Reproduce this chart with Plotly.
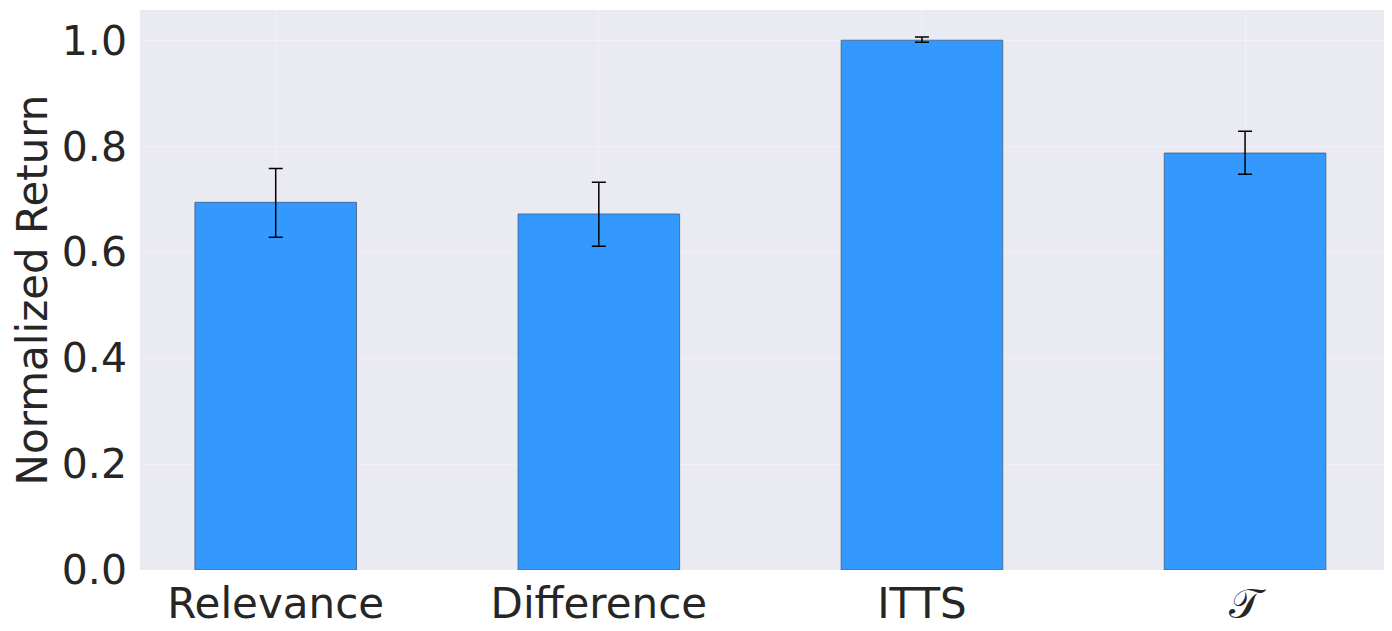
import plotly.graph_objects as go

methods = ["Relevance", "Difference", "ITTS", "𝒯"]
returns = [0.694, 0.672, 1.0, 0.787]
err_plus = [0.064, 0.06, 0.006, 0.041]
err_minus = [0.066, 0.061, 0.004, 0.040]

fig = go.Figure()

fig.add_trace(go.Bar(
    x=list(range(len(methods))),
    y=returns,
    width=0.5,
    marker=dict(color="#3399FF", line=dict(color="#3d5a80", width=0.8)),
    error_y=dict(
        type="data",
        symmetric=False,
        array=err_plus,
        arrayminus=err_minus,
        color="black",
        thickness=1.5,
        width=7,
    ),
))

# page body adds 8px offset, so size is trimmed accordingly
fig.update_layout(
    width=1384,
    height=623,
    margin=dict(l=132, r=8, t=2, b=61),
    paper_bgcolor="white",
    plot_bgcolor="#EAEAF2",
    font=dict(family="DejaVu Sans", color="#262626"),
    showlegend=False,
    xaxis=dict(
        range=[-0.42, 3.43],
        tickmode="array",
        tickvals=list(range(len(methods))),
        ticktext=methods,
        tickfont=dict(size=42),
        ticklabelstandoff=5,
        showgrid=True,
        gridcolor="rgba(255,255,255,0.3)",
        zeroline=False,
        ticks="",
    ),
    yaxis=dict(
        range=[0, 1.057],
        tickvals=[0, 0.2, 0.4, 0.6, 0.8, 1.0],
        tickformat=".1f",
        tickfont=dict(size=41),
        ticklabelstandoff=12,
        title=dict(text="Normalized Return", font=dict(size=42), standoff=2),
        showgrid=True,
        gridcolor="rgba(255,255,255,0.3)",
        zeroline=False,
        ticks="",
    ),
)

fig.write_html("out.html")
